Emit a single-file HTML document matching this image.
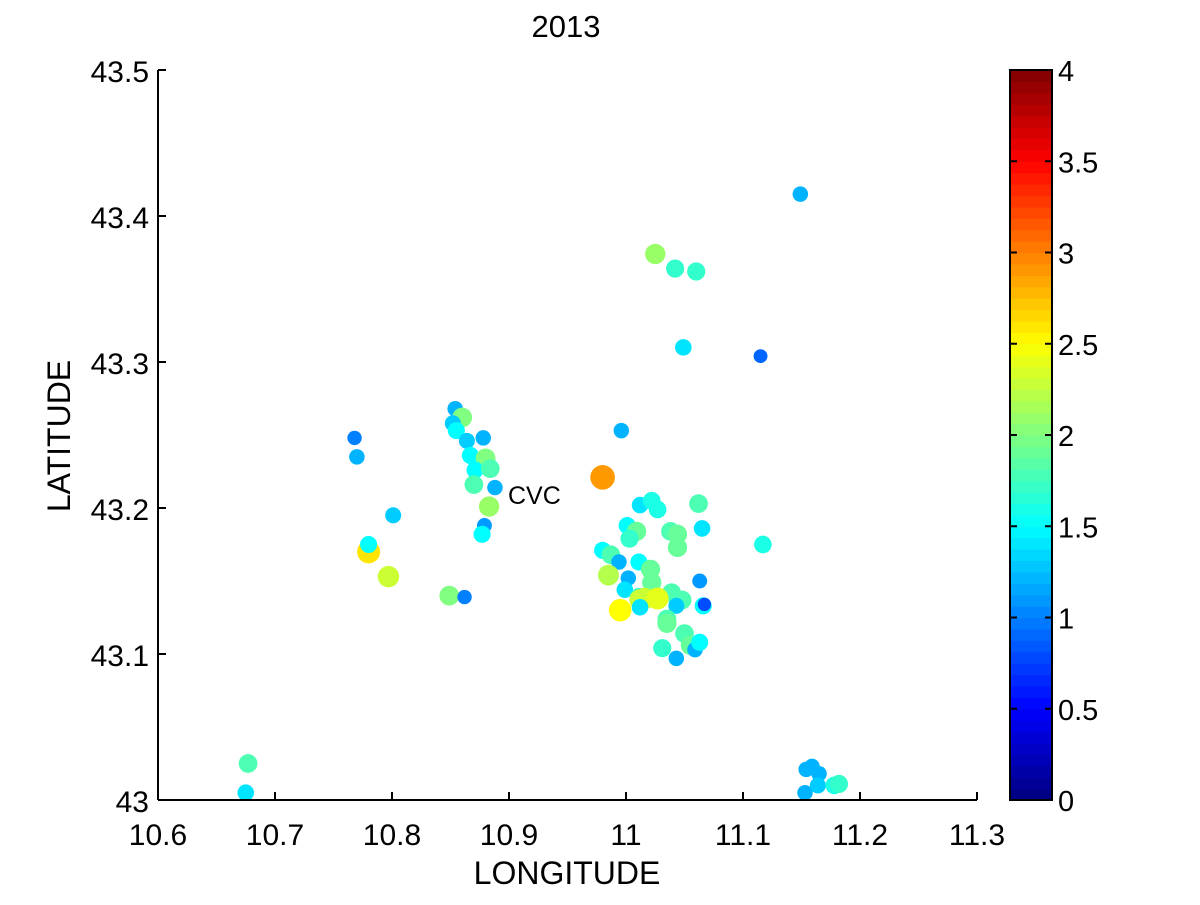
<!DOCTYPE html>
<html><head><meta charset="utf-8"><style>
body{margin:0;background:#fff;}
svg text{font-family:"Liberation Sans",sans-serif;}
</style></head><body>
<svg id="chart" width="1200" height="900" xmlns="http://www.w3.org/2000/svg">
<text x="566" y="37" font-size="31" text-anchor="middle">2013</text>
<g id="plot"></g>
<g id="axes"></g>
<text x="508" y="504" font-size="25">CVC</text>
<text x="567" y="884" font-size="32" text-anchor="middle">LONGITUDE</text>
<text transform="translate(70,436) rotate(-90)" font-size="32" text-anchor="middle">LATITUDE</text>
<g id="cbar"></g>
</svg>
<script>
const lons=[11.149,11.025,11.042,11.060,11.049,11.115,10.996,10.980,10.854,10.860,10.852,10.855,10.864,10.878,10.768,10.770,10.867,10.880,10.871,10.884,10.870,10.888,10.883,10.879,10.877,10.801,10.780,10.780,10.797,10.849,10.862,10.677,10.675,11.012,11.022,11.027,11.062,11.065,11.117,11.001,11.009,11.003,11.038,11.044,11.044,10.980,10.987,10.994,11.011,10.985,11.002,11.021,11.022,11.063,10.999,11.011,11.039,11.048,11.012,11.016,11.027,10.995,11.012,11.043,11.066,11.067,11.035,11.035,11.050,11.055,11.031,11.059,11.063,11.043,11.153,11.154,11.159,11.165,11.164,11.178,11.182];
const lats=[43.415,43.374,43.364,43.362,43.310,43.304,43.253,43.221,43.268,43.262,43.258,43.253,43.246,43.248,43.248,43.235,43.236,43.234,43.226,43.227,43.216,43.214,43.201,43.188,43.182,43.195,43.170,43.175,43.153,43.140,43.139,43.025,43.005,43.202,43.205,43.199,43.203,43.186,43.175,43.188,43.184,43.179,43.184,43.182,43.173,43.171,43.168,43.163,43.163,43.154,43.152,43.158,43.149,43.150,43.144,43.139,43.142,43.137,43.137,43.138,43.138,43.130,43.132,43.133,43.133,43.134,43.124,43.121,43.114,43.106,43.104,43.103,43.108,43.097,43.005,43.021,43.023,43.018,43.010,43.010,43.011];
const mags=[1.2,2.1,1.7,1.7,1.4,0.9,1.2,2.9,1.2,2.0,1.3,1.5,1.3,1.2,1.0,1.2,1.5,2.0,1.5,1.8,1.8,1.2,2.1,1.1,1.5,1.3,2.6,1.5,2.3,2.0,1.0,1.8,1.4,1.4,1.6,1.6,1.8,1.4,1.6,1.5,1.9,1.7,1.8,1.9,1.9,1.5,1.8,1.2,1.5,2.2,1.2,1.9,1.9,1.1,1.4,1.7,1.8,1.8,2.3,2.3,2.4,2.5,1.4,1.3,1.5,0.8,1.8,1.9,1.8,1.9,1.7,1.2,1.5,1.2,1.2,1.2,1.2,1.2,1.3,1.6,1.7];
const xTicks=[10.6,10.7,10.8,10.9,11,11.1,11.2,11.3];
const yTicks=[43,43.1,43.2,43.3,43.4,43.5];
const cTicks=[0,0.5,1,1.5,2,2.5,3,3.5,4];
const NS='http://www.w3.org/2000/svg';
const X=v=>158+(v-10.6)/0.7*819;
const Y=v=>800-(v-43)/0.5*730;
const C=v=>800-v/4*730;
function jet(t){t=Math.max(0,Math.min(1,t));
 const f=x=>Math.max(0,Math.min(1,1.5-Math.abs(4*t-x)));
 return `rgb(${Math.round(255*f(3))},${Math.round(255*f(2))},${Math.round(255*f(1))})`;}
function mk(tag,attrs,parent){const e=document.createElementNS(NS,tag);for(const k in attrs)e.setAttribute(k,attrs[k]);parent.appendChild(e);return e;}
const plot=document.getElementById('plot');
lons.forEach((lo,i)=>{
 const c=mk('circle',{cx:X(lo),cy:Y(lats[i]),r:4.5+2.7*mags[i],fill:jet(mags[i]/4)},plot);
 
 
});
const ax=document.getElementById('axes');
mk('line',{x1:158,y1:70,x2:158,y2:800,stroke:'#000','stroke-width':2},ax);
mk('line',{x1:158,y1:800,x2:977,y2:800,stroke:'#000','stroke-width':2},ax);
xTicks.forEach(v=>{mk('line',{x1:X(v),y1:800,x2:X(v),y2:792,stroke:'#000','stroke-width':2},ax);
 const t=mk('text',{x:X(v),y:845,'font-size':30,'text-anchor':'middle'},ax);t.textContent=v;
 });
yTicks.forEach(v=>{mk('line',{x1:158,y1:Y(v),x2:166,y2:Y(v),stroke:'#000','stroke-width':2},ax);
 const t=mk('text',{x:149,y:Y(v)+12,'font-size':30,'text-anchor':'end'},ax);t.textContent=v;
 });
const cb=document.getElementById('cbar');
for(let i=0;i<64;i++){mk('rect',{x:1010,y:800-(i+1)*730/64,width:42,height:730/64+0.6,fill:jet((i+0.5)/64)},cb);}
mk('rect',{x:1010,y:70,width:42,height:730,fill:'none',stroke:'#000','stroke-width':2},cb);
cTicks.forEach(v=>{mk('line',{x1:1010,y1:C(v),x2:1017,y2:C(v),stroke:'#000','stroke-width':2},cb);
 mk('line',{x1:1045,y1:C(v),x2:1052,y2:C(v),stroke:'#000','stroke-width':2},cb);
 const t=mk('text',{x:1058,y:C(v)+11,'font-size':29},cb);t.textContent=v;
 });
</script>
</body></html>
